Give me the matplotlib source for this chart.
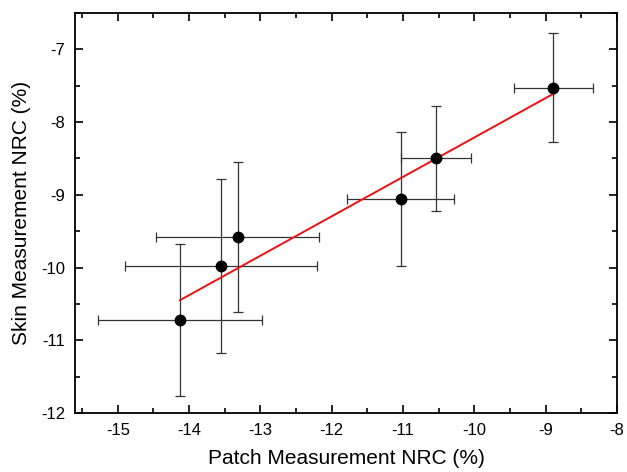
import matplotlib
matplotlib.use("Agg")
import matplotlib.pyplot as plt
from matplotlib.ticker import MultipleLocator

plt.rcParams['font.family'] = ['Liberation Sans', 'DejaVu Sans']
plt.rcParams['axes.unicode_minus'] = False

patch_x = [-14.13, -13.55, -13.32, -11.03, -10.54, -8.89]
skin_y = [-10.72, -9.98, -9.58, -9.06, -8.50, -7.53]
x_err = [1.15, 1.35, 1.14, 0.75, 0.49, 0.55]
y_err = [1.04, 1.20, 1.03, 0.92, 0.72, 0.75]
fit_x = [-14.13, -8.89]
fit_y = [-10.45, -7.61]

fig = plt.figure(figsize=(6.27, 4.72), dpi=100)
ax = fig.add_axes([0.1196, 0.125, 0.8644, 0.8475])

ax.errorbar(patch_x, skin_y, xerr=x_err, yerr=y_err, fmt='none',
            ecolor='#333333', elinewidth=0.9, capsize=3.5, capthick=0.9, zorder=2)
ax.plot(fit_x, fit_y, color='#ee1111', lw=1.4, zorder=3)
ax.plot(patch_x, skin_y, 'o', color='black', ms=7.5, zorder=4)

ax.set_xlim(-15.6, -8)
ax.set_ylim(-12, -6.5)
ax.xaxis.set_major_locator(MultipleLocator(1))
ax.xaxis.set_minor_locator(MultipleLocator(0.5))
ax.yaxis.set_major_locator(MultipleLocator(1))
ax.yaxis.set_minor_locator(MultipleLocator(0.5))
ax.tick_params(which='both', direction='in', top=True, right=True, width=1.2,
               labelsize=12, pad=7)
ax.tick_params(which='major', length=6)
ax.tick_params(which='minor', length=3.5)
for s in ax.spines.values():
    s.set_linewidth(1.3)

ax.set_xlabel('Patch Measurement NRC (%)', fontsize=15, labelpad=8)
ax.set_ylabel('Skin Measurement NRC (%)', fontsize=15, labelpad=7)

fig.savefig('out.png', dpi=100)
